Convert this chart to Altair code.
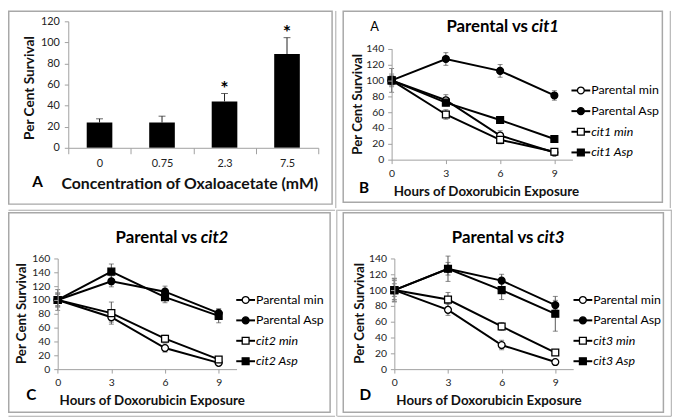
import altair as alt
import pandas as pd

FONT = "Lato"
GREY = "#a0a0a0"
FRAME = "#a8a8a8"

# ---------------- Panel A data ----------------
conc_labels = ["0", "0.75", "2.3", "7.5"]
survival_a = [24, 24, 44, 89]
survival_a_err = [3.5, 6, 7.5, 15.5]
stars_a = ["", "", "*", "*"]

# ---------------- Time-course data ----------------
hours = [0, 3, 6, 9]
parental_min = [100, 75, 30.5, 9]
parental_min_err = [15, 7, 6, 2]
parental_asp = [100, 127, 112, 81]
parental_asp_err = [8, 8, 8, 6]

cit1_min = [100, 57, 25, 10]
cit1_min_err = [6, 6, 5, 2]
cit1_asp = [100, 72, 50, 26]
cit1_asp_err = [5, 4, 3, 2]

cit2_min = [100, 81, 44, 14]
cit2_min_err = [10, 16, 5, 3]
cit2_asp = [100, 141, 104, 77]
cit2_asp_err = [10, 11, 8, 10]

cit3_min = [100, 88, 54, 21]
cit3_min_err = [12, 9, 5, 3]
cit3_asp = [100, 127, 100, 70]
cit3_asp_err = [14, 16, 12, 22]

all_series = ["Parental min", "Parental Asp", "cit1 min", "cit1 Asp",
              "cit2 min", "cit2 Asp", "cit3 min", "cit3 Asp"]
series_shapes = ["circle", "circle", "square", "square", "square", "square", "square", "square"]
series_fills = ["white", "black", "white", "black", "white", "black", "white", "black"]

x_title = "Hours of Doxorubicin Exposure"
y_title = "Per Cent Survival"

one = pd.DataFrame({"k": [0]})
SHAPE_SC = alt.Scale(domain=all_series, range=series_shapes)
FILL_SC = alt.Scale(domain=all_series, range=series_fills)


def axis_style(**kw):
    base = dict(grid=False, domainColor=GREY, tickColor=GREY, domainWidth=1, tickWidth=1,
                labelFont=FONT, labelFontSize=10.5, labelColor="#222",
                titleFont=FONT, titleFontSize=13.5, titleFontWeight="bold", titleColor="#111",
                labelOverlap=False, zindex=1)
    base.update(kw)
    return alt.Axis(**base)


def box_layer(origin, box, color=FRAME, width=1.5):
    ox, oy = origin
    x1, y1, x2, y2 = box
    return alt.Chart(one).mark_rect(fillOpacity=0, stroke=color, strokeWidth=width).encode(
        x=alt.value(x1 - ox), x2=alt.value(x2 - ox), y=alt.value(y1 - oy), y2=alt.value(y2 - oy))


def seg_layer(origin, seg, color=FRAME, width=1):
    ox, oy = origin
    x1, y1, x2, y2 = seg
    return alt.Chart(one).mark_rule(stroke=color, strokeWidth=width).encode(
        x=alt.value(x1 - ox), x2=alt.value(x2 - ox), y=alt.value(y1 - oy), y2=alt.value(y2 - oy))


def text_layer(origin, txt, x, y, size, weight="normal", style="normal", align="left"):
    ox, oy = origin
    d = pd.DataFrame({"t": [txt]})
    return alt.Chart(d).mark_text(font=FONT, fontSize=size, fontWeight=weight, fontStyle=style,
                                  align=align, baseline="middle", color="black").encode(
        x=alt.value(x - ox), y=alt.value(y - oy), text="t:N")


# ---------------- Panel A ----------------
def panel_a():
    origin = (69, 19)
    W, H = 253, 128
    dfa = pd.DataFrame({"conc": conc_labels, "surv": survival_a,
                        "hi": [s + e for s, e in zip(survival_a, survival_a_err)],
                        "star": stars_a})
    xax = axis_style(tickBand="extent", labelAngle=0, tickSize=6, labelPadding=4,
                     title="Concentration of Oxaloacetate (mM)", titleX=191.5 - 69, titleY=183 - 147,
                     titleBaseline="middle", titleAlign="center", titleAngle=0, labelFontSize=11,
                     titleFontSize=16)
    yax = axis_style(values=list(range(0, 121, 20)), tickSize=4, labelPadding=5, title=y_title,
                     titleX=30 - 69, titleY=86 - 19, titleBaseline="middle", titleAlign="center",
                     titleAngle=-90, labelFontSize=11, titleFontSize=13.8)
    xs = alt.Scale(paddingInner=0, paddingOuter=0)
    ys = alt.Scale(domain=[0, 120], nice=False)
    X = alt.X("conc:N", sort=conc_labels, scale=xs, axis=xax)
    base = alt.Chart(dfa)
    bars = base.mark_bar(color="black", width=alt.RelativeBandSize(band=0.41)).encode(
        x=X, y=alt.Y("surv:Q", scale=ys, axis=yax))
    err = base.mark_rule(color="#222", strokeWidth=1).encode(
        x=X, y=alt.Y("surv:Q", scale=ys, axis=yax), y2="hi:Q")
    cap = base.mark_tick(color="#222", size=7, thickness=1).encode(
        x=X, y=alt.Y("hi:Q", scale=ys, axis=yax))
    stars = base.mark_text(font=FONT, fontSize=20, fontWeight="bold", baseline="middle", dy=-5,
                           color="black").encode(
        x=X, y=alt.Y("hi:Q", scale=ys, axis=yax), text="star:N")
    letter = text_layer(origin, "A", 38, 182, 15.5, weight="bold", align="center")
    frame = box_layer(origin, (8.75, 8.75, 336, 204))
    return alt.layer(frame, bars, err, cap, stars, letter).properties(width=W, height=H)


# ---------------- Line panels ----------------
def long_df(names, vals, errs):
    rows = []
    for n, v, e in zip(names, vals, errs):
        for h, vv, ee in zip(hours, v, e):
            rows.append({"series": n, "hour": h, "value": vv, "lo": vv - ee, "hi": vv + ee})
    return pd.DataFrame(rows)


def line_panel(gene, vals, errs, ymax, origin, plot, ytitle_c, xtitle_c, title_y, split_x,
               letter, letter_c, leg_ys, leg_x, frame, segs, extras=()):
    ox, oy = origin
    px0, px1, pyt, pyb = plot
    W = px1 - ox
    H = pyb - oy
    names = ["Parental min", "Parental Asp", gene + " min", gene + " Asp"]
    df = long_df(names, vals, errs)
    xax = axis_style(values=hours, tickSize=4, labelPadding=5, title=x_title,
                     titleX=xtitle_c[0] - ox, titleY=xtitle_c[1] - pyb, titleBaseline="middle",
                     titleAlign="center", titleAngle=0, labelFlush=False)
    yax = axis_style(values=list(range(0, ymax + 1, 20)), tickSize=4, labelPadding=4,
                     title=y_title, titleX=ytitle_c[0] - px0, titleY=ytitle_c[1] - oy,
                     titleBaseline="middle", titleAlign="center", titleAngle=-90,
                     offset=ox - px0, titleFontSize=13.4)
    xs = alt.Scale(domain=[0, 10], nice=False, range=[px0 - ox, px1 - ox])
    ys = alt.Scale(domain=[0, ymax], nice=False, range=[pyb - oy, pyt - oy])

    def X(f):
        return alt.X(f + ":Q", scale=xs, axis=xax)

    def Y(f):
        return alt.Y(f + ":Q", scale=ys, axis=yax)

    base = alt.Chart(df)
    err = base.mark_rule(color="#555", strokeWidth=1).encode(x=X("hour"), y=Y("lo"), y2="hi:Q")
    cap_hi = base.mark_tick(orient="horizontal", size=5, thickness=1, color="#555").encode(
        x=X("hour"), y=Y("hi"))
    cap_lo = base.mark_tick(orient="horizontal", size=5, thickness=1, color="#555").encode(
        x=X("hour"), y=Y("lo"))
    lines = base.mark_line(color="black", strokeWidth=2).encode(
        x=X("hour"), y=Y("value"), detail="series:N")
    pts = base.mark_point(size=48, stroke="black", strokeWidth=1.3, opacity=1).encode(
        x=X("hour"), y=Y("value"),
        shape=alt.Shape("series:N", scale=SHAPE_SC, legend=None),
        fill=alt.Fill("series:N", scale=FILL_SC, legend=None))
    t1 = text_layer(origin, "Parental vs", split_x - 1.5, title_y, 17, weight="bold", align="right")
    t2 = text_layer(origin, gene, split_x + 2, title_y, 17, weight="bold", style="italic")
    lt = text_layer(origin, letter, letter_c[0], letter_c[1], 15.5, weight="bold", align="center")
    layers = [box_layer(origin, frame)] + [seg_layer(origin, s) for s in segs]
    layers += [err, cap_hi, cap_lo, lines, pts, t1, t2, lt] + list(extras)
    data_group = alt.layer(*layers)

    legdf = pd.DataFrame({"series": names, "italic": [0, 0, 1, 1]})
    LY = alt.Y("series:N", scale=alt.Scale(type="point", domain=names,
                                           range=[leg_ys[0] - oy, leg_ys[1] - oy], padding=0),
               axis=None)
    lb = alt.Chart(legdf)
    lx0 = leg_x - ox
    leg_line = lb.mark_rule(color="black", strokeWidth=2).encode(
        x=alt.value(lx0), x2=alt.value(lx0 + 19), y=LY)
    leg_pts = lb.mark_point(size=48, stroke="black", strokeWidth=1.3, opacity=1).encode(
        x=alt.value(lx0 + 9.5), y=LY,
        shape=alt.Shape("series:N", scale=SHAPE_SC, legend=None),
        fill=alt.Fill("series:N", scale=FILL_SC, legend=None))
    leg_reg = lb.mark_text(font=FONT, fontSize=12.5, align="left", baseline="middle",
                           color="black").encode(
        x=alt.value(lx0 + 20), y=LY, text="series:N").transform_filter("datum.italic == 0")
    leg_it = lb.mark_text(font=FONT, fontSize=12.5, fontStyle="italic", align="left",
                          baseline="middle", color="black").encode(
        x=alt.value(lx0 + 20), y=LY, text="series:N").transform_filter("datum.italic == 1")
    legend_group = alt.layer(leg_line, leg_pts, leg_reg, leg_it)
    return alt.layer(data_group, legend_group).resolve_scale(y="independent").properties(
        width=W, height=H)


pa = panel_a()

ob = (396, 19)
pb = line_panel("cit1", [parental_min, parental_asp, cit1_min, cit1_asp],
                [parental_min_err, parental_asp_err, cit1_min_err, cit1_asp_err],
                140, ob, (396, 579, 46.7, 159), (361.7, 102.5), (491.5, 191.7), 25, 535.5,
                "B", (368, 188), (89, 151.7), 578, (347, 8.75, 670, 202),
                [(339.5, 8.5, 339.5, 208), (678, 8.5, 678, 208)],
                extras=[text_layer(ob, "A", 378.8, 25, 13, align="center")])

oc = (69, 257.3)
pc = line_panel("cit2", [parental_min, parental_asp, cit2_min, cit2_asp],
                [parental_min_err, parental_asp_err, cit2_min_err, cit2_asp_err],
                160, oc, (58.3, 239.3, 257.3, 369.3), (21.7, 312.7), (153.5, 401), 236.7, 201,
                "C", (31.7, 396), (299.3, 361.3), 239, (8.75, 211, 334, 413),
                [(8.5, 208.5, 339, 208.5), (8.5, 417, 339, 417)])

od = (397.7, 257.3)
pd_ = line_panel("cit3", [parental_min, parental_asp, cit3_min, cit3_asp],
                 [parental_min_err, parental_asp_err, cit3_min_err, cit3_asp_err],
                 140, od, (397.7, 578.7, 257.3, 369.3), (362.7, 312.3), (493, 401), 236.7, 540,
                 "D", (368.3, 396), (299.3, 361.3), 579, (346, 211, 670, 413),
                 [(340, 208.5, 678, 208.5), (339.5, 208, 339.5, 417), (678, 208, 678, 417),
                  (340, 417, 678, 417)])

top = alt.hconcat(pa, pb, spacing=2.25)
bottom = alt.hconcat(pc, pd_, spacing=0)
chart = alt.vconcat(top, bottom, spacing=0).properties(padding=0).configure_view(stroke=None)

chart.save("out.html", embed_options={"renderer": "svg", "actions": False})
